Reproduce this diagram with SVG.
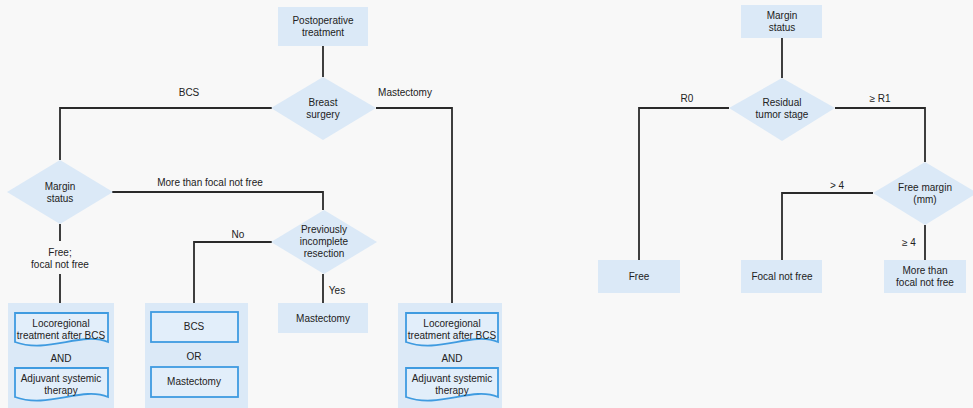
<svg xmlns="http://www.w3.org/2000/svg" width="973" height="408" viewBox="0 0 973 408">
<style>
.bg{fill:#f8f8f8}
.box{fill:#dbe9f7}
.dia{fill:#dbe9f7}
.inner{fill:#e2eefa;stroke:#3f9be0;stroke-width:1.8}
.ln{fill:none;stroke:#2a2a2a;stroke-width:1.8}
text{font-family:"Liberation Sans",Arial,sans-serif;font-size:10px;fill:#222;text-anchor:middle}
</style>
<rect class="bg" x="0" y="0" width="973" height="408"/>
<g id="connectors">
<path class="ln" d="M323,46 V77"/>
<path class="ln" d="M272,108 H60 V160"/>
<path class="ln" d="M376,108 H452 V303"/>
<path class="ln" d="M112,192 H323 V210"/>
<path class="ln" d="M60,224 V241 M60,274 V303"/>
<path class="ln" d="M272,242 H194 V303"/>
<path class="ln" d="M323,274 V303"/>
<path class="ln" d="M782,38 V78"/>
<path class="ln" d="M729,108 H639 V260"/>
<path class="ln" d="M835,108 H925 V162"/>
<path class="ln" d="M873,193 H782 V260"/>
<path class="ln" d="M925,225 V260"/>
<text x="189" y="96">BCS</text>
<text x="405" y="96">Mastectomy</text>
<text x="210" y="186">More than focal not free</text>
<text x="60" y="256">Free;</text>
<text x="60" y="268">focal not free</text>
<text x="238" y="238">No</text>
<text x="337" y="294">Yes</text>
<text x="687" y="102">R0</text>
<text x="880" y="102">≥ R1</text>
<text x="837" y="189">&gt; 4</text>
<text x="909" y="246">≥ 4</text>
</g>
<g id="postop">
<rect class="box" x="278" y="7" width="90" height="39"/>
<text x="323" y="24">Postoperative</text>
<text x="323" y="36">treatment</text>
</g>
<g id="breast-surgery">
<polygon class="dia" points="323,77 376,108 323,140 271,108"/>
<text x="323" y="106">Breast</text>
<text x="323" y="118">surgery</text>
</g>
<g id="margin-status-left">
<polygon class="dia" points="60,160 113,192 60,224 7,192"/>
<text x="60" y="190">Margin</text>
<text x="60" y="202">status</text>
</g>
<g id="prev-incomplete">
<polygon class="dia" points="324,210 377,242 324,274 271,242"/>
<text x="324" y="233">Previously</text>
<text x="324" y="245">incomplete</text>
<text x="324" y="257">resection</text>
</g>
<g id="mastectomy-yes">
<rect class="box" x="278" y="303" width="90" height="30"/>
<text x="323" y="322">Mastectomy</text>
</g>
<g id="bcs-branch">
<rect class="box" x="8" y="303" width="106" height="105"/>
<path class="inner" d="M15,313 H108 V342 C82,331 48,354 15,342 Z"/>
<text x="61" y="327">Locoregional</text>
<text x="61" y="339">treatment after BCS</text>
<text x="61" y="362">AND</text>
<path class="inner" d="M15,368 H108 V397 C82,386 48,409 15,397 Z"/>
<text x="61" y="382">Adjuvant systemic</text>
<text x="61" y="394">therapy</text>
</g>
<g id="no-branch">
<rect class="box" x="145" y="303" width="103" height="105"/>
<rect class="inner" x="151" y="312" width="87" height="30"/>
<text x="194" y="330">BCS</text>
<text x="194" y="360">OR</text>
<rect class="inner" x="151" y="367" width="87" height="30"/>
<text x="194" y="385">Mastectomy</text>
</g>
<g id="mastectomy-branch">
<rect class="box" x="398" y="303" width="104" height="105"/>
<path class="inner" d="M406,313 H498 V342 C472,331 439,354 406,342 Z"/>
<text x="452" y="327">Locoregional</text>
<text x="452" y="339">treatment after BCS</text>
<text x="452" y="362">AND</text>
<path class="inner" d="M406,368 H498 V397 C472,386 439,409 406,397 Z"/>
<text x="452" y="382">Adjuvant systemic</text>
<text x="452" y="394">therapy</text>
</g>
<g id="margin-status-right">
<rect class="box" x="741" y="5" width="81" height="33"/>
<text x="782" y="19">Margin</text>
<text x="782" y="31">status</text>
</g>
<g id="residual">
<polygon class="dia" points="782,78 835,108 782,141 729,108"/>
<text x="782" y="106">Residual</text>
<text x="782" y="118">tumor stage</text>
</g>
<g id="free-margin">
<polygon class="dia" points="925,162 977,193 925,225 873,193"/>
<text x="925" y="191">Free margin</text>
<text x="925" y="203">(mm)</text>
</g>
<g id="free">
<rect class="box" x="598" y="260" width="82" height="33"/>
<text x="639" y="280">Free</text>
</g>
<g id="focal">
<rect class="box" x="741" y="260" width="81" height="33"/>
<text x="782" y="280">Focal not free</text>
</g>
<g id="more-than">
<rect class="box" x="884" y="260" width="82" height="33"/>
<text x="925" y="274">More than</text>
<text x="925" y="286">focal not free</text>
</g>
</svg>
